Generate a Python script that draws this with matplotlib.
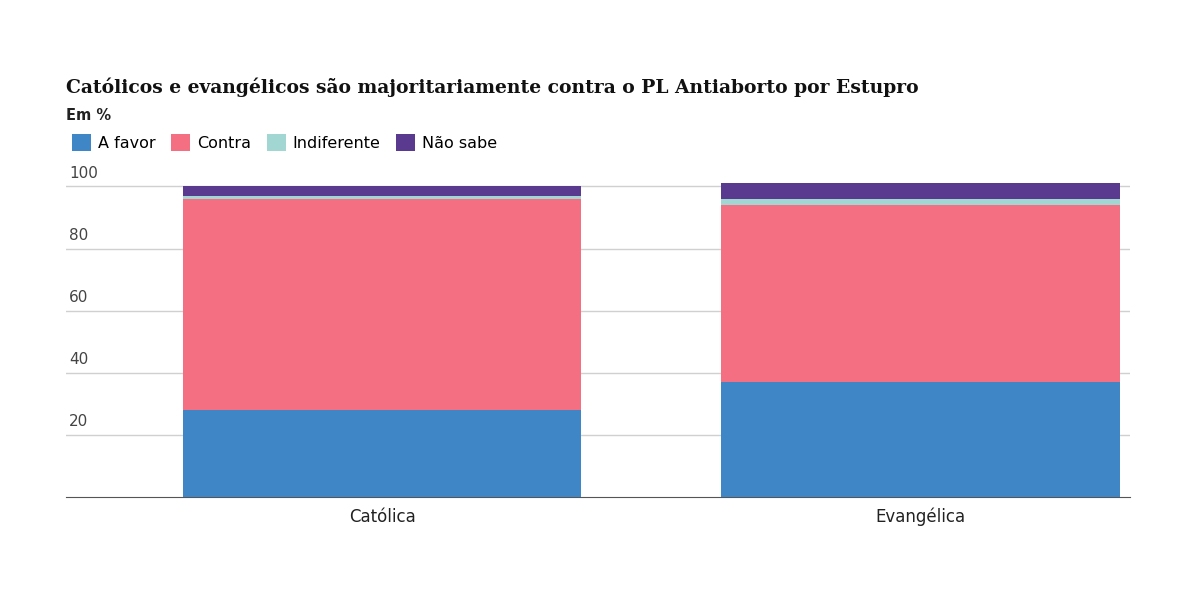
import matplotlib
matplotlib.use("Agg")
import matplotlib.pyplot as plt
import numpy as np

# ── Data ──────────────────────────────────────────────────────────────────────
categories  = ["Católica", "Evangélica"]
a_favor     = [28, 37]
contra      = [68, 57]
indiferente = [1, 2]
nao_sabe    = [3, 5]

SERIES  = [("A favor", a_favor, "#3F86C6"), ("Contra", contra, "#F36F81"),
           ("Indiferente", indiferente, "#A2D6D3"), ("Não sabe", nao_sabe, "#5A3A8E")]
TICKS   = [20, 40, 60, 80, 100]

fig = plt.figure(figsize=(12, 6), dpi=100)
ax = fig.add_axes([0.055, 0.172, 0.887, 0.525])

x = np.arange(len(categories))
bottom = np.zeros(len(categories))
for label, vals, col in SERIES:
    ax.bar(x, vals, bottom=bottom, width=0.74, color=col, label=label, zorder=3)
    bottom += np.array(vals)

ax.set_xlim(-0.587, 1.39)
ax.set_ylim(0, 101.5)
for t in TICKS:
    ax.axhline(t, color="#d0d0d0", lw=1, zorder=1)
    ax.text(0.003, t + 1.8, str(t), transform=ax.get_yaxis_transform(),
            fontsize=11, color="#444", va="bottom", ha="left")
ax.set_yticks([])
ax.set_xticks(x)
ax.set_xticklabels(categories, fontsize=12, color="#222")
ax.tick_params(axis="x", length=0, pad=8)
for s in ["top", "right", "left"]:
    ax.spines[s].set_visible(False)
ax.spines["bottom"].set_color("#555")

fig.text(0.055, 0.845, "Católicos e evangélicos são majoritariamente contra o PL Antiaborto por Estupro",
         fontsize=13.5, fontweight="bold", family="DejaVu Serif", color="#111")
fig.text(0.055, 0.8, "Em %", fontsize=10.5, fontweight="bold", color="#222")
handles, labels = ax.get_legend_handles_labels()
fig.legend(handles, labels, loc="upper left", bbox_to_anchor=(0.048, 0.8), ncol=4,
           frameon=False, fontsize=11.5, handlelength=1.2, handleheight=1.2,
           columnspacing=1.0, handletextpad=0.4)

fig.savefig("out.png", dpi=100, facecolor="white")
